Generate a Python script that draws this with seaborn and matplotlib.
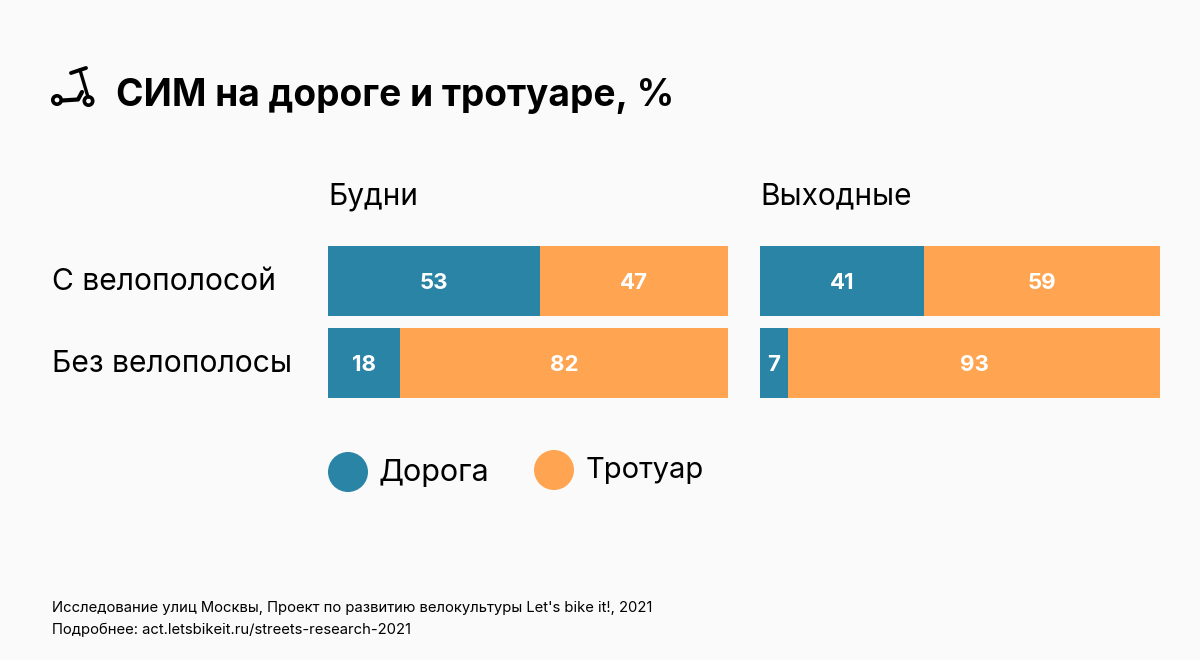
import pandas as pd
import seaborn as sns
import matplotlib.pyplot as plt
from matplotlib.patches import Circle

# Data
groups = ["С велополосой", "Без велополосы"]
road_weekday = [53, 18]
walk_weekday = [47, 82]
road_weekend = [41, 7]
walk_weekend = [59, 93]
panel_titles = ["Будни", "Выходные"]
legend_labels = ["Дорога", "Тротуар"]

blue = "#2a84a6"
orange = "#ffa552"
bg = "#fafafa"

sns.set_theme(style="white")
plt.rcParams["font.family"] = ["Inter", "DejaVu Sans"]

fig = plt.figure(figsize=(12, 6.6), dpi=100, facecolor=bg)


def draw_panel(ax, road, walk, title):
    df = pd.DataFrame({"group": groups, "total": [r + w for r, w in zip(road, walk)], "road": road})
    sns.barplot(data=df, y="group", x="total", color=orange, width=0.85, saturation=1, linewidth=0, ax=ax)
    sns.barplot(data=df, y="group", x="road", color=blue, width=0.85, saturation=1, linewidth=0, ax=ax)
    ax.set_xlim(0, 100)
    ax.set_ylim(1.5, -0.5)
    ax.axis("off")
    for i in range(2):
        ax.text(road[i] / 2, i + 0.02, str(road[i]), color="white", fontsize=16, fontweight="bold", ha="center", va="center")
        ax.text(road[i] + walk[i] / 2, i + 0.02, str(walk[i]), color="white", fontsize=16, fontweight="bold", ha="center", va="center")
    ax.text(0, -1.03, title, fontsize=21.5, color="black", ha="left", va="center", clip_on=False)


# axes in figure coords, 1200x660
ax1 = fig.add_axes([328 / 1200, 1 - 404 / 660, 400 / 1200, 164 / 660])
ax2 = fig.add_axes([760 / 1200, 1 - 404 / 660, 400 / 1200, 164 / 660])
draw_panel(ax1, road_weekday, walk_weekday, panel_titles[0])
draw_panel(ax2, road_weekend, walk_weekend, panel_titles[1])

for label, y in zip(groups, [282.5, 364.5]):
    fig.text(52 / 1200, 1 - y / 660, label, fontsize=21.6, color="black", ha="left", va="center")

# legend
overlay = fig.add_axes([0, 0, 1, 1], facecolor="none")
overlay.set_xlim(0, 1200)
overlay.set_ylim(660, 0)
overlay.axis("off")
overlay.add_patch(Circle((348, 472), 20, color=blue, lw=0))
overlay.add_patch(Circle((554, 470), 20, color=orange, lw=0))
overlay.text(379, 473, legend_labels[0], fontsize=22, color="black", va="center")
overlay.text(586, 471, legend_labels[1], fontsize=21, color="black", va="center")

# scooter icon
overlay.plot([62, 78, 82], [100.5, 99.5, 92], color="black", lw=3, solid_capstyle="round")
overlay.plot([80, 88], [70, 97], color="black", lw=2.4, solid_capstyle="round")
overlay.plot([71, 86], [73, 68], color="black", lw=2.8, solid_capstyle="round")
overlay.add_patch(Circle((57, 100), 4.2, fc=bg, ec="black", lw=2.6))
overlay.add_patch(Circle((88.5, 101), 4.2, fc=bg, ec="black", lw=2.6))

# title and footer
overlay.text(116, 96.5, "СИМ на дороге и тротуаре, %", fontsize=26.7, fontweight="bold", color="black", va="center")
overlay.text(52, 608, "Исследование улиц Москвы, Проект по развитию велокультуры Let's bike it!, 2021", fontsize=10.68, color="black", va="center")
overlay.text(52, 630, "Подробнее: act.letsbikeit.ru/streets-research-2021", fontsize=10.68, color="black", va="center")

fig.savefig("out.png", dpi=100, facecolor=bg)
